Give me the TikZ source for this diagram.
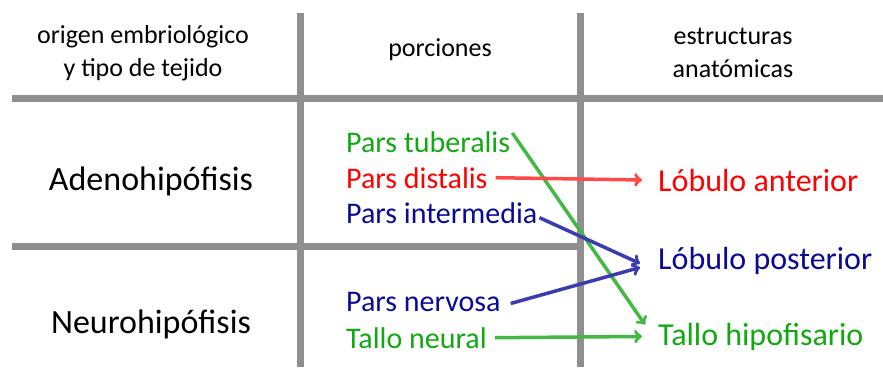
\documentclass[tikz,border=0pt]{standalone}
\usepackage{fontspec}
\setmainfont{Carlito}
\usetikzlibrary{arrows}
\definecolor{rejilla}{HTML}{8F8F8F}
\definecolor{verde}{HTML}{12A812}
\definecolor{rojo}{HTML}{FF0000}
\definecolor{azul}{HTML}{0A0A96}
\definecolor{verdeflecha}{HTML}{44B844}
\definecolor{rojoflecha}{HTML}{FF4848}
\definecolor{azulflecha}{HTML}{3C3CB0}
\tikzset{
	linea/.style={rejilla, line width=7pt},
	cabecera/.style={font=\fontsize{26}{33}\selectfont, align=center, inner sep=0pt},
	origen/.style={font=\fontsize{34}{40}\selectfont, anchor=base, inner sep=0pt},
	porcion/.style={font=\fontsize{30}{36}\selectfont, anchor=base west, inner sep=0pt},
	estructura/.style={font=\fontsize{32}{38}\selectfont, anchor=base west, inner sep=0pt},
	flecha/.style={->, >=to, line width=3.5pt}
}
\begin{document}
\begin{tikzpicture}[x=1pt, y=-1pt]
	\useasboundingbox (0,0) rectangle (883,367);
	\draw[linea] (12,98) -- (883,98);
	\draw[linea] (12,246) -- (583,246);
	\draw[linea] (300,13) -- (300,367);
	\draw[linea] (580,13) -- (580,367);

	\node[cabecera] (h1) at (143,53) {origen embriológico\\y tipo de tejido};
	\node[cabecera] (h2) at (440,50) {porciones};
	\node[cabecera] (h3) at (733,53) {estructuras\\anatómicas};

	\node[origen] (adeno) at (151,190) {Adenohipófisis};
	\node[origen] (neuro) at (151,333) {Neurohipófisis};

	\node[porcion, verde] (tuber) at (346,152) {Pars tuberalis};
	\node[porcion, rojo] (distal) at (346,188) {Pars distalis};
	\node[porcion, azul] (inter) at (346,223) {Pars intermedia};
	\node[porcion, azul] (nerv) at (346,311) {Pars nervosa};
	\node[porcion, verde] (tallo) at (346,348) {Tallo neural};

	\node[estructura, rojo] (ant) at (658,191) {Lóbulo anterior};
	\node[estructura, azul] (post) at (658,269) {Lóbulo posterior};
	\node[estructura, verde] (hipo) at (658,345) {Tallo hipofisario};

	\draw[flecha, verdeflecha] ([xshift=2pt,yshift=-2pt]tuber.north east) -- ([xshift=-13pt,yshift=-2pt]hipo.north west);
	\draw[flecha, rojoflecha] ([xshift=8pt]distal.east) -- ([xshift=-16pt]ant.west);
	\draw[flecha, azulflecha] ([xshift=2pt,yshift=-5pt]inter.east) -- ([xshift=-18pt,yshift=-3pt]post.west);
	\draw[flecha, azulflecha] ([xshift=10pt,yshift=-2pt]nerv.east) -- ([xshift=-18pt,yshift=-7pt]post.west);
	\draw[flecha, verdeflecha] ([xshift=8pt]tallo.east) -- ([xshift=-16pt]hipo.west);
\end{tikzpicture}
\end{document}
